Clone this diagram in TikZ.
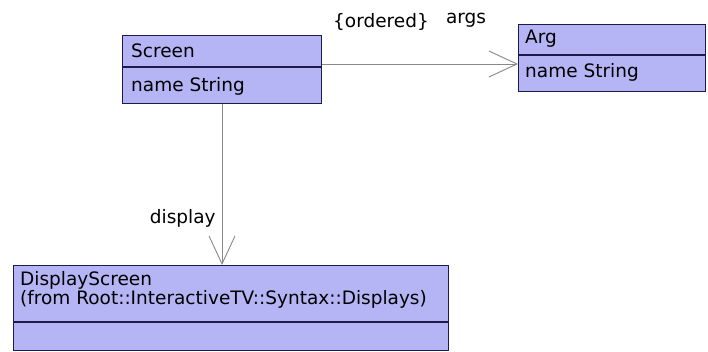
\documentclass[tikz,border=0pt]{standalone}
\usepackage{fontspec}
\setmainfont{DejaVu Sans}
\usetikzlibrary{arrows.meta,positioning,calc}
\definecolor{classfill}{HTML}{B5B5F5}
\definecolor{classline}{HTML}{1C1C4A}
\definecolor{assoc}{HTML}{888888}

\begin{document}
\begin{tikzpicture}[x=1pt,y=-1pt,
  cls/.style={draw=classline,fill=classfill,line width=1.3pt,anchor=north west,inner sep=0pt},
  div/.style={draw=classline,line width=1.3pt},
  lbl/.style={anchor=west,inner sep=0pt,font=\fontsize{18.5}{21}\selectfont},
  arr/.style={draw=assoc,line width=0.9pt,-{Straight Barb[length=28pt,width=26pt,line width=0.9pt]}}
]
\useasboundingbox[fill=white] (0,0) rectangle (708,352);
% classes
\node[cls,minimum width=199pt,minimum height=68pt] (scr) at (122,35) {};
\node[cls,minimum width=187pt,minimum height=67pt] (arg) at (518,24) {};
\node[cls,minimum width=435pt,minimum height=85pt] (disp) at (13,265) {};
\draw[div] ($(scr.north west)+(0,32)$) -- ($(scr.north east)+(0,32)$);
\draw[div] ($(arg.north west)+(0,31)$) -- ($(arg.north east)+(0,31)$);
\draw[div] ($(disp.north west)+(0,57)$) -- ($(disp.north east)+(0,57)$);
\node[lbl] (scrname) at ($(scr.north west)+(9,16)$) {Screen};
\node[lbl] (scrattr) at ($(scr.north west)+(9,51)$) {name String};
\node[lbl] (argname) at ($(arg.north west)+(7,15)$) {Arg};
\node[lbl] (argattr) at ($(arg.north west)+(7,48)$) {name String};
\node[lbl] (dispname) at ($(disp.north west)+(7,15)$) {DisplayScreen};
\node[lbl] (dispfrom) at ($(disp.north west)+(7,34)$) {(from Root::InteractiveTV::Syntax::Displays)};
% associations
\draw[arr] (scr.east |- 0,64) -- (arg.west |- 0,64);
\node[lbl,anchor=center] (ordered) at (381,22) {\{ordered\}};
\node[lbl,anchor=center] (args) at (466,20) {args};
\draw[arr] (scr.south -| 222,0) -- node[pos=0.71,left=6pt,lbl,anchor=east] (display) {display} (disp.north -| 222,0);
\end{tikzpicture}
\end{document}
